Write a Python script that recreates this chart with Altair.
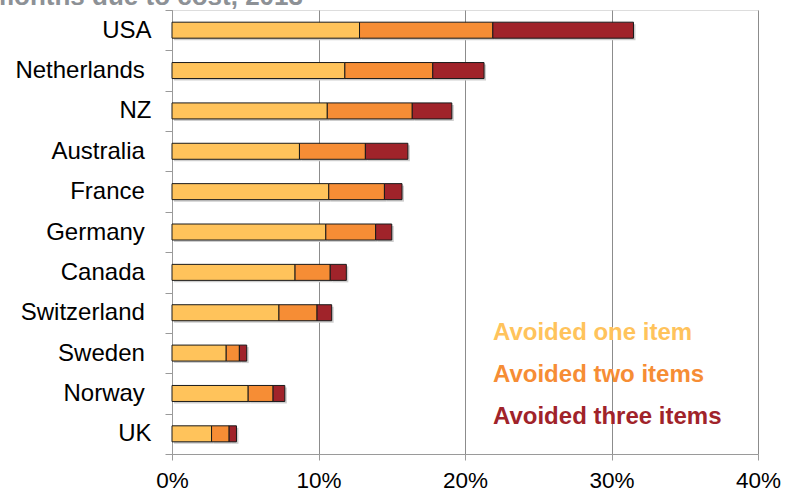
import altair as alt
import pandas as pd

# Share of adults avoiding care items due to cost, by country (percent)
countries = ["USA", "Netherlands", "NZ", "Australia", "France", "Germany",
             "Canada", "Switzerland", "Sweden", "Norway", "UK"]
avoided_one = [12.8, 11.8, 10.6, 8.7, 10.7, 10.5, 8.4, 7.3, 3.7, 5.2, 2.7]
avoided_two = [9.1, 6.0, 5.8, 4.5, 3.8, 3.4, 2.4, 2.6, 0.9, 1.7, 1.2]
avoided_three = [9.6, 3.5, 2.7, 2.9, 1.2, 1.1, 1.1, 1.0, 0.5, 0.8, 0.5]

series = ["Avoided one item", "Avoided two items", "Avoided three items"]
colors = ["#FFC35B", "#F68D35", "#A0232A"]
legend_colors = ["#FFC35B", "#F68D35", "#A0232A"]
x_ticks = [0, 10, 20, 30, 40]

title_text = "Adults who skipped care, tests or prescriptions in the past 12 months due to cost, 2013"

FONT = "Liberation Sans"

rows = []
for i, c in enumerate(countries):
    for k, (s, vals) in enumerate(zip(series, [avoided_one, avoided_two, avoided_three])):
        rows.append({"country": c, "series": s, "value": vals[i], "order": k})
df = pd.DataFrame(rows)

W, H = 586, 444

# Country labels: short codes sit flush, longer names carry a trailing space
# (a zero-width character after the space keeps it from being trimmed)
y_label_expr = (
    "!isValid(datum.value) ? '' : "
    "(indexof(['USA','NZ','UK'], datum.value) >= 0 ? datum.value : datum.value + '\\u00a0\\u200b')"
)

y_enc = alt.Y("country:N", sort=countries, title=None,
              scale=alt.Scale(paddingInner=0, paddingOuter=0),
              axis=alt.Axis(tickBand="extent", tickSize=7, tickColor="#9a9a9a",
                            domainColor="#9a9a9a", labelFont=FONT, labelFontSize=24,
                            labelColor="#000000", labelPadding=14, grid=False,
                            labelExpr=y_label_expr))
x_enc = alt.X("value:Q", stack="zero", title=None,
              scale=alt.Scale(domain=[0, 40], nice=False),
              axis=alt.Axis(values=x_ticks, labelExpr="datum.value + '%'", grid=True,
                            gridColor="#8c8c8c", gridWidth=1, tickSize=6,
                            tickColor="#9a9a9a", domainColor="#9a9a9a",
                            labelFont=FONT, labelFontSize=22.5, labelColor="#000000",
                            labelPadding=9, labelFlush=False))

# Soft drop shadow behind each stacked bar
shadow = alt.Chart(df).mark_bar(size=16, color="#cdcdcd", xOffset=2, yOffset=2).encode(
    y=y_enc, x=x_enc, order=alt.Order("order:Q"),
)

bars = alt.Chart(df).mark_bar(size=16, stroke="#1a1a1a", strokeWidth=1).encode(
    y=y_enc,
    x=x_enc,
    color=alt.Color("series:N", scale=alt.Scale(domain=series, range=colors), legend=None),
    order=alt.Order("order:Q"),
)

# Chart heading, clipped at the top edge of the page
heading = alt.Chart(pd.DataFrame({"t": [title_text]})).mark_text(
    align="right", baseline="alphabetic", font=FONT, fontSize=26,
    fontWeight="bold", color="#8d9196"
).encode(text="t:N", x=alt.value(131), y=alt.value(-5))

# Coloured-text legend
legend_layers = []
for k, (s, c) in enumerate(zip(series, legend_colors)):
    legend_layers.append(
        alt.Chart(pd.DataFrame({"t": [s]})).mark_text(
            align="left", baseline="alphabetic", font=FONT, fontSize=24,
            fontWeight="bold", color=c
        ).encode(text="t:N", x=alt.value(321), y=alt.value(330 + 42 * k))
    )

chart = alt.layer(shadow, bars, heading, *legend_layers).properties(
    width=W, height=H,
    autosize=alt.AutoSizeParams(type="none"),
    padding={"left": 172, "top": 10, "right": 27, "bottom": 40},
).configure_view(stroke=None).configure(background="#ffffff")

chart.save("out.html", embed_options={"renderer": "svg", "actions": False})
